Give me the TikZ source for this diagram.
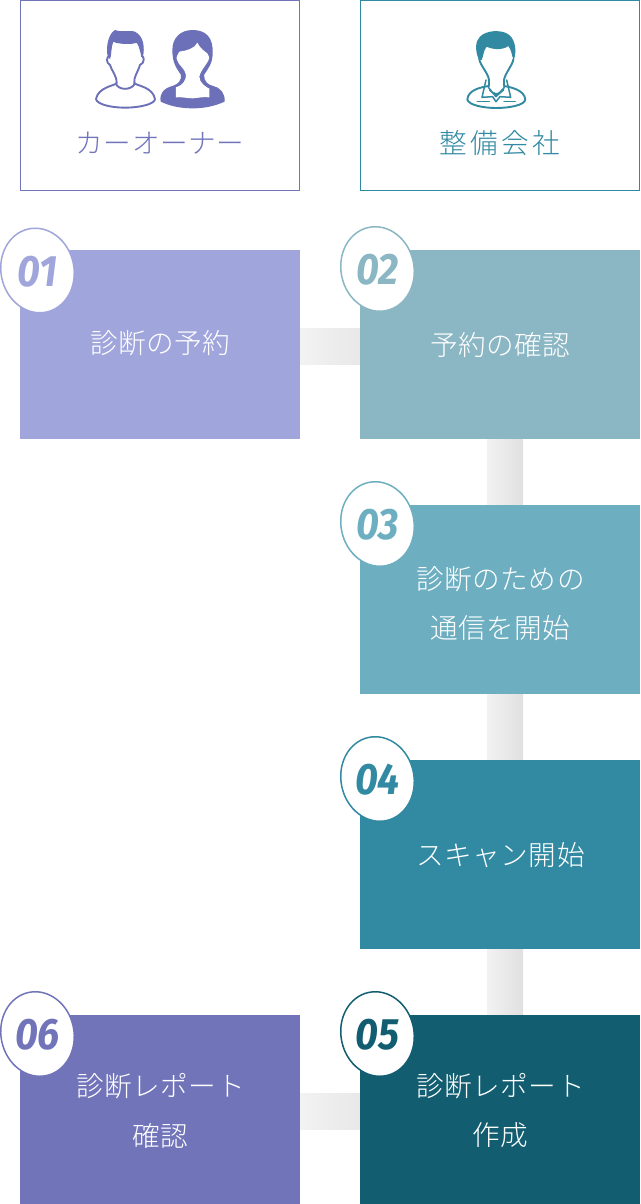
\documentclass[tikz,border=0pt]{standalone}
\usepackage{fontspec}
\usepackage{graphicx}
\newfontfamily\jp{Noto Sans CJK JP Light}[LetterSpace=2]
\newfontfamily\jpw{Noto Sans CJK JP Light}[LetterSpace=12]
\newfontfamily\num{Fira Sans}[BoldItalicFont={Fira Sans Bold Italic}]
\definecolor{cA}{HTML}{A0A6DC}
\definecolor{cB}{HTML}{8BB7C4}
\definecolor{cC}{HTML}{6DAFC1}
\definecolor{cD}{HTML}{3189A2}
\definecolor{cE}{HTML}{125E70}
\definecolor{cF}{HTML}{7174B9}
\definecolor{icoP}{HTML}{6B70B8}
\usetikzlibrary{shapes.geometric}
\tikzset{
  x=1pt,y=-1pt,
  block/.style={minimum width=280pt,minimum height=189pt,inner sep=0pt,outer sep=0pt,anchor=north west},
  head/.style={draw=#1,line width=1pt,minimum width=279pt,minimum height=190pt,inner sep=0pt,outer sep=0pt,anchor=north west},
  lab/.style={text=white,font=\jp\fontsize{27.6}{30}\selectfont,inner sep=0pt},
  headlab/.style={font=\jp\fontsize{27.6}{30}\selectfont,inner sep=0pt},
  badge/.style={draw=#1,fill=white,line width=1.5pt,ellipse,minimum width=73pt,minimum height=85pt,inner sep=0pt,rotate=12},
  numtxt/.style={text=#1,font=\num\bfseries\itshape\fontsize{44}{44}\selectfont,inner sep=0pt},
  ico/.style={draw=#1,line width=1.9pt,fill=none,line join=round,line cap=round},
  icothin/.style={draw=#1,line width=1.5pt,fill=none,line join=round,line cap=round},
}
\begin{document}
\begin{tikzpicture}
\useasboundingbox (0,0) rectangle (640,1204);
% connectors
\path[left color=black!5,right color=black!9] (300,328) rectangle (360,364);
\path[left color=black!5,right color=black!9] (300,1093) rectangle (360,1129);
\path[left color=black!5,right color=black!12] (487,439) rectangle (523,505);
\path[left color=black!5,right color=black!12] (487,694) rectangle (523,760);
\path[left color=black!5,right color=black!12] (487,949) rectangle (523,1015);
% header boxes
\node[head=cF] (owner) at (20.5,0.5) {};
\node[head=cD] (shop) at (360.5,0.5) {};
\node[headlab,text=cF] (ownerl) at (160,143.5) {カーオーナー};
\node[font=\jpw\fontsize{27.6}{30}\selectfont,inner sep=0pt,text=cD] (shopl) at (500,143.5) {整備会社};
% blocks
\node[block,fill=cA] (b1) at (20,250) {};
\node[block,fill=cB] (b2) at (360,250) {};
\node[block,fill=cC] (b3) at (360,505) {};
\node[block,fill=cD] (b4) at (360,760) {};
\node[block,fill=cE] (b5) at (360,1015) {};
\node[block,fill=cF] (b6) at (20,1015) {};
% block labels
\node[lab] (t1) at (160.5,343.5) {診断の予約};
\node[lab] (t2) at (500.5,345.5) {予約の確認};
\node[lab] (t3a) at (500.5,579.5) {診断のための};
\node[lab] (t3b) at (500.5,628.5) {通信を開始};
\node[lab] (t4) at (500.5,855.5) {スキャン開始};
\node[lab] (t5a) at (500.5,1086.5) {診断レポート};
\node[lab] (t5b) at (500.5,1135.5) {作成};
\node[lab] (t6a) at (160.5,1086.5) {診断レポート};
\node[lab] (t6b) at (160.5,1135.5) {確認};
% badges
\foreach \nm/\cx/\cy/\col/\txt in {e1/37.5/270.5/cA/01,e2/377.5/269/cB/02,e3/377.5/524/cC/03,e4/377.5/779/cD/04,e5/377.5/1034/cE/05,e6/37.5/1034/cF/06}{
  \node[badge=\col] (\nm) at (\cx,\cy) {};
  \node[numtxt=\col] (\nm n) at (\cx,\cy+1) {\scalebox{.9}[1]{\txt}};
}
% man icon
\begin{scope}[scale=1/3]
\fill[icoP] (322,165) .. controls (318,130) and (328,100) .. (345,90)
  .. controls (360,97) and (390,90) .. (405,95)
  .. controls (430,108) and (436,140) .. (428,175)
  .. controls (420,165) and (420,140) .. (410,128)
  .. controls (395,135) and (350,132) .. (340,125)
  .. controls (333,140) and (335,165) .. (330,178) -- cycle;
\draw[ico=icoP] (330,168) .. controls (318,168) and (318,190) .. (330,195)
  .. controls (336,215) and (350,225) .. (350,250)
  .. controls (340,258) and (295,262) .. (288,297)
  .. controls (290,312) and (330,323) .. (375,323)
  .. controls (420,323) and (465,312) .. (465,297)
  .. controls (458,262) and (415,258) .. (403,250)
  .. controls (400,230) and (415,215) .. (420,195)
  .. controls (434,190) and (434,168) .. (425,168);
\draw[ico=icoP] (347,250) .. controls (355,272) and (395,272) .. (405,250);
% woman icon
\fill[icoP] (578,90) .. controls (620,90) and (640,115) .. (638,160)
  .. controls (638,190) and (625,205) .. (612,225)
  .. controls (612,245) and (625,255) .. (640,258)
  .. controls (660,262) and (676,280) .. (674,305)
  .. controls (640,320) and (610,325) .. (578,325)
  .. controls (540,325) and (510,318) .. (482,305)
  .. controls (478,280) and (490,265) .. (520,257)
  .. controls (535,252) and (545,240) .. (543,225)
  .. controls (530,205) and (517,190) .. (517,150)
  .. controls (517,115) and (540,90) .. (578,90) -- cycle;
\fill[white] (538,155) .. controls (560,152) and (585,145) .. (592,128)
  .. controls (600,145) and (615,155) .. (622,160)
  .. controls (622,170) and (632,165) .. (625,182)
  .. controls (618,195) and (600,215) .. (598,230)
  .. controls (598,250) and (620,262) .. (628,266)
  -- (628,292) .. controls (600,290) and (590,295) .. (578,295)
  .. controls (560,295) and (545,290) .. (528,292)
  -- (528,262) .. controls (550,255) and (558,240) .. (558,225)
  .. controls (555,205) and (535,195) .. (532,182)
  .. controls (525,170) and (535,165) .. (538,155) -- cycle;
\end{scope}
% mechanic icon
\begin{scope}[shift={(340,0)},scale=1/3]
\fill[cD] (416,178) .. controls (405,150) and (405,125) .. (420,110)
  .. controls (440,90) and (480,90) .. (500,100)
  .. controls (525,112) and (532,150) .. (521,182)
  .. controls (516,170) and (515,150) .. (505,138)
  .. controls (490,150) and (460,150) .. (440,140)
  .. controls (430,152) and (430,170) .. (425,180) -- cycle;
\draw[ico=cD] (418,178) .. controls (420,195) and (445,220) .. (447,240)
  -- (447,258) .. controls (420,262) and (385,270) .. (382,298)
  .. controls (385,315) and (430,324) .. (468,324)
  .. controls (510,324) and (555,315) .. (556,298)
  .. controls (552,270) and (515,262) .. (492,258)
  -- (492,240) .. controls (495,220) and (518,195) .. (520,178);
\fill[cD] (447,262) .. controls (455,285) and (485,285) .. (492,262)
  -- (492,272) -- (470,290) -- (447,272) -- cycle;
\draw[icothin=cD] (438,240) -- (426,292) -- (458,290) -- (468,305) -- (480,290) -- (512,292) -- (500,240);
\draw[icothin=cD] (445,262) -- (468,290) -- (493,262);
\draw[icothin=cD] (412,304) -- (448,304);
\draw[icothin=cD] (492,304) -- (526,304);
\end{scope}
\end{tikzpicture}
\end{document}
